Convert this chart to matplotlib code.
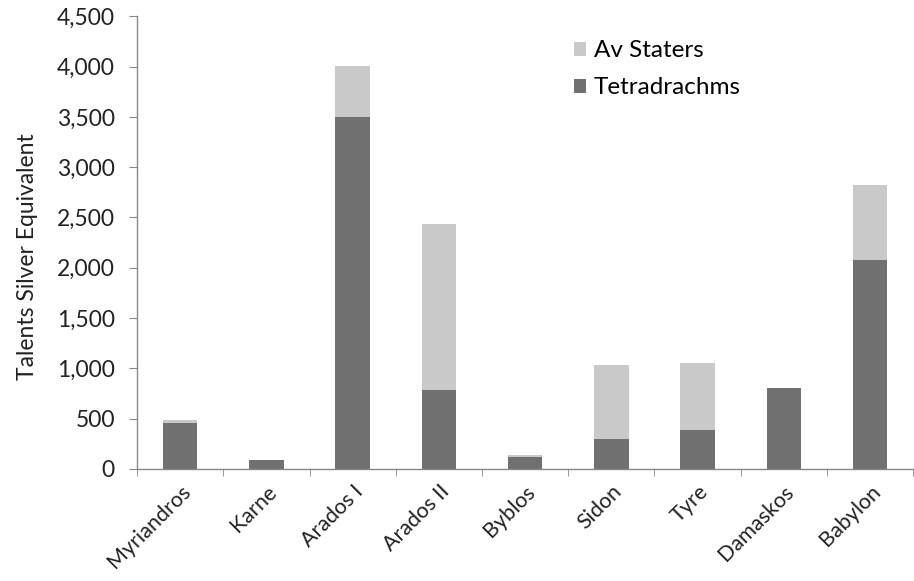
import matplotlib
matplotlib.use("Agg")
import matplotlib.pyplot as plt
import numpy as np

categories = ["Myriandros", "Karne", "Arados I", "Arados II", "Byblos",
              "Sidon", "Tyre", "Damaskos", "Babylon"]
tetradrachms = [455, 90, 3500, 785, 120, 300, 390, 800, 2075]
av_staters = [30, 0, 510, 1645, 20, 730, 660, 0, 745]
y_ticks = [0, 500, 1000, 1500, 2000, 2500, 3000, 3500, 4000, 4500]

plt.rcParams['font.family'] = ['Lato', 'DejaVu Sans']

fig = plt.figure(figsize=(9.14, 5.81), dpi=100)
ax = fig.add_axes([0.150, 0.193, 0.849, 0.779])

x = np.arange(len(categories))
dark = "#707070"
light = "#c9c9c9"
ax.bar(x, tetradrachms, width=0.4, color=dark, label="Tetradrachms", zorder=2)
ax.bar(x, av_staters, width=0.4, bottom=tetradrachms, color=light,
       label="Av Staters", zorder=2)

ax.set_xlim(-0.5, len(categories) - 0.5)
ax.set_ylim(0, 4500)
ax.set_yticks(y_ticks)
ax.set_yticklabels([f"{v:,}" for v in y_ticks], fontsize=16.5, color="#222222")

ax.set_xticks(x)
ax.set_xticklabels(categories, rotation=45, ha="right", rotation_mode="anchor",
                   fontsize=15.5, color="#222222")
ax.tick_params(axis="x", length=0, pad=9)
ax.set_xticks(np.arange(len(categories) + 1) - 0.5, minor=True)
ax.tick_params(axis="x", which="minor", length=5, color="#888888", direction="out")
ax.tick_params(axis="y", length=6, color="#888888", pad=10)

for side in ["top", "right"]:
    ax.spines[side].set_visible(False)
for side in ["left", "bottom"]:
    ax.spines[side].set_color("#888888")
    ax.spines[side].set_linewidth(1.0)

ax.set_ylabel("Talents Silver Equivalent", fontsize=16.5, color="#222222", labelpad=16)
ax.yaxis.set_label_coords(-0.128, 0.47)

handles, labels = ax.get_legend_handles_labels()
leg = ax.legend(handles[::-1], labels[::-1], loc="upper left",
                bbox_to_anchor=(0.535, 0.995), frameon=False, fontsize=17.5,
                handlelength=0.5, handleheight=0.5, handletextpad=0.3,
                labelspacing=0.65)

fig.savefig("out.png", dpi=100, facecolor="white")
